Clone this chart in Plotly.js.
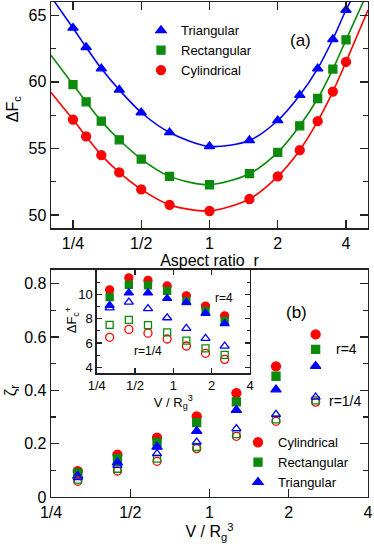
<!DOCTYPE html>
<html>
<head>
<meta charset="utf-8">
<script src="https://cdn.plot.ly/plotly-3.0.1.min.js"></script>
<style>
  html, body { margin: 0; padding: 0; background: #fff; }
  #plot { width: 374px; height: 546px; }
</style>
</head>
<body>
<div id="plot"></div>
<script>
// (a) free energy barrier vs aspect ratio
const aspectR = [0.25, 0.2857, 0.3333, 0.4, 0.5, 0.6667, 1, 1.5, 2, 2.5, 3, 3.5, 4];
const dfTri  = [64.05, 62.6, 61.0, 59.4, 57.7, 56.2, 55.15, 55.6, 57.1, 59.0, 61.0, 63.2, 65.4];
const dfRect = [59.8, 58.5, 57.05, 55.65, 54.2, 52.9, 52.27, 53.1, 54.7, 56.7, 58.75, 60.96, 63.16];
const dfCyl  = [57.17, 55.9, 54.5, 53.2, 51.92, 50.76, 50.3, 51.2, 52.9, 54.87, 57.05, 59.27, 61.5];

// fitted curves (incl. where they leave the frame)
const fitR    = [0.2, 0.25, 0.2857, 0.3333, 0.4, 0.5, 0.6667, 1, 1.5, 2, 2.5, 3, 3.5, 4, 5];
const fitTri  = [66.4, 64.05, 62.6, 61.0, 59.4, 57.7, 56.2, 55.15, 55.6, 57.1, 59.0, 61.0, 63.2, 65.4, 68.5];
const fitRect = [62.0, 59.8, 58.5, 57.05, 55.65, 54.2, 52.9, 52.27, 53.1, 54.7, 56.7, 58.75, 60.96, 63.16, 66.8];
const fitCyl  = [59.2, 57.17, 55.9, 54.5, 53.2, 51.92, 50.76, 50.3, 51.2, 52.9, 54.87, 57.05, 59.27, 61.5, 65.4];

// (b) zeta_r vs V / Rg^3
const vol = [0.316, 0.447, 0.632, 0.894, 1.265, 1.789, 2.53];
const zetaCyl4   = [0.097, 0.159, 0.223, 0.302, 0.39, 0.49, 0.61];
const zetaRect4  = [0.09, 0.144, 0.206, 0.279, 0.357, 0.453, 0.554];
const zetaTri4   = [0.079, 0.129, 0.188, 0.247, 0.326, 0.403, 0.491];
const zetaCyl14  = [0.059, 0.0975, 0.134, 0.1815, 0.2277, 0.284, 0.356];
const zetaRect14 = [0.065, 0.106, 0.144, 0.1875, 0.236, 0.291, 0.3626];
const zetaTri14  = [0.073, 0.119, 0.163, 0.206, 0.2565, 0.31, 0.375];

// inset: dF_c^+ vs V / Rg^3
const dfpCyl4   = [10.38, 11.37, 11.16, 10.7, 9.89, 9.04, 8.24];
const dfpRect4  = [9.78, 10.8, 10.75, 10.3, 9.45, 8.65, 7.83];
const dfpTri4   = [9.1, 10.13, 10.13, 9.67, 9.34, 8.44, 7.6];
const dfpCyl14  = [6.47, 7.12, 6.81, 6.33, 5.75, 5.15, 4.65];
const dfpRect14 = [7.5, 7.91, 7.47, 6.88, 6.19, 5.56, 5.02];
const dfpTri14  = [8.9, 9.37, 8.84, 8.08, 7.2, 6.38, 5.74];

const log2Ticks = [0.25, 0.5, 1, 2, 4];
const log2Text = ['1/4', '1/2', '1', '2', '4'];

const RED = '#ff0000', GREEN = '#0b8a0b', BLUE = '#0000ff';
const FONT = 'Liberation Sans, Arial, Helvetica, sans-serif';

// pixel -> paper helpers (plot area spans x 51..368, y 1.7..496.7)
const L = 51, R = 6, T = 1.7, B = 49.3;
const W = 374 - L - R, H = 546 - T - B;
const px = x => (x - L) / W;
const py = y => (546 - B - y) / H;

function markers(x, y, name, color, symbol, size, xa, ya, extra) {
  return Object.assign({
    x: x, y: y, name: name, type: 'scatter', mode: 'markers',
    xaxis: xa, yaxis: ya, showlegend: false,
    marker: { color: color, symbol: symbol, size: size, line: { color: color, width: 1.3 } }
  }, extra || {});
}
function fitLine(x, y, color) {
  return {
    x: x, y: y, type: 'scatter', mode: 'lines', xaxis: 'x', yaxis: 'y',
    showlegend: false, hoverinfo: 'skip',
    line: { color: color, width: 1.6, shape: 'spline', smoothing: 0.8 }
  };
}

const traces = [
  fitLine(fitR, fitCyl, RED),
  fitLine(fitR, fitRect, GREEN),
  fitLine(fitR, fitTri, BLUE),
  markers(aspectR, dfCyl, 'Cylindrical', RED, 'circle', 9, 'x', 'y', { showlegend: true, legend: 'legend', legendrank: 3 }),
  markers(aspectR, dfRect, 'Rectangular', GREEN, 'square', 8, 'x', 'y', { showlegend: true, legend: 'legend', legendrank: 2 }),
  markers(aspectR, dfTri, 'Triangular', BLUE, 'triangle-up', 9, 'x', 'y', { showlegend: true, legend: 'legend', legendrank: 1 }),

  markers(vol, zetaCyl4, 'Cylindrical', RED, 'circle', 9, 'x2', 'y2', { showlegend: true, legend: 'legend2', legendrank: 1 }),
  markers(vol, zetaRect4, 'Rectangular', GREEN, 'square', 8, 'x2', 'y2', { showlegend: true, legend: 'legend2', legendrank: 2 }),
  markers(vol, zetaTri4, 'Triangular', BLUE, 'triangle-up', 9, 'x2', 'y2', { showlegend: true, legend: 'legend2', legendrank: 3 }),
  markers(vol, zetaCyl14, 'Cylindrical r=1/4', RED, 'circle-open', 8, 'x2', 'y2'),
  markers(vol, zetaRect14, 'Rectangular r=1/4', GREEN, 'square-open', 7, 'x2', 'y2'),
  markers(vol, zetaTri14, 'Triangular r=1/4', BLUE, 'triangle-up-open', 8, 'x2', 'y2'),

  markers(vol, dfpCyl4, 'Cylindrical', RED, 'circle', 8, 'x3', 'y3'),
  markers(vol, dfpRect4, 'Rectangular', GREEN, 'square', 7, 'x3', 'y3'),
  markers(vol, dfpTri4, 'Triangular', BLUE, 'triangle-up', 8, 'x3', 'y3'),
  markers(vol, dfpCyl14, 'Cylindrical r=1/4', RED, 'circle-open', 8, 'x3', 'y3'),
  markers(vol, dfpRect14, 'Rectangular r=1/4', GREEN, 'square-open', 7, 'x3', 'y3'),
  markers(vol, dfpTri14, 'Triangular r=1/4', BLUE, 'triangle-up-open', 8, 'x3', 'y3')
];

function axis(extra, fontSize) {
  return Object.assign({
    showline: true, linecolor: '#222', linewidth: 1.4, mirror: 'ticks',
    ticks: 'inside', ticklen: 8, tickwidth: 1.3, tickcolor: '#222',
    showgrid: false, zeroline: false, fixedrange: true,
    tickfont: { family: FONT, size: fontSize || 16, color: '#000' }
  }, extra);
}

// text placed by its centre, at pixel position (x, y)
function label(text, x, y, size, angle) {
  return {
    text: text, x: px(x), y: py(y), xref: 'paper', yref: 'paper',
    xanchor: 'center', yanchor: 'middle', showarrow: false, textangle: angle || 0,
    font: { family: FONT, size: size, color: '#000' }
  };
}

const legendStyle = {
  xanchor: 'left', yanchor: 'top', traceorder: 'normal',
  bgcolor: 'rgba(0,0,0,0)', borderwidth: 0, itemwidth: 30,
  font: { family: FONT, size: 13, color: '#000' }, tracegroupgap: 0
};

const layout = {
  width: 374, height: 546,
  margin: { l: L, r: R, t: T, b: B },
  paper_bgcolor: '#fff', plot_bgcolor: '#fff',
  font: { family: FONT, color: '#000' },
  xaxis: axis({
    type: 'log', range: [Math.log10(0.2), Math.log10(5)], anchor: 'y', domain: [0, 1],
    tickvals: log2Ticks, ticktext: log2Text,
    title: { text: 'Aspect ratio  r', font: { family: FONT, size: 16 }, standoff: 0 }
  }),
  yaxis: axis({
    range: [49, 66], anchor: 'x', domain: [py(228), 1],
    tickvals: [50, 55, 60, 65],
    minor: { dtick: 2.5, ticks: 'inside', ticklen: 5, tickwidth: 1.2, tickcolor: '#222' }
  }),
  xaxis2: axis({
    type: 'log', range: [Math.log10(0.25), Math.log10(4)], anchor: 'y2', domain: [0, 1],
    tickvals: log2Ticks, ticktext: log2Text, mirror: true,
    title: { text: 'V / R<sub>g</sub><sup>3</sup>', font: { family: FONT, size: 16 }, standoff: 6 }
  }),
  yaxis2: axis({
    range: [0, 0.853], anchor: 'x2', domain: [0, py(269.3)],
    tickvals: [0, 0.2, 0.4, 0.6, 0.8], ticktext: ['0', '0.2', '0.4', '0.6', '0.8'],
    minor: { dtick: 0.1, ticks: 'inside', ticklen: 5, tickwidth: 1.2, tickcolor: '#222' }
  }),
  xaxis3: axis({
    type: 'log', range: [Math.log10(0.25), Math.log10(4)], anchor: 'y3', domain: [px(96.7), px(250)],
    tickvals: log2Ticks, ticktext: log2Text, ticklen: 5,
    title: { text: 'V / R<sub>g</sub><sup>3</sup>', font: { family: FONT, size: 13 }, standoff: 2 }
  }, 13),
  yaxis3: axis({
    range: [3.5, 12.05], anchor: 'x3', domain: [py(373), py(269.3)],
    tickvals: [4, 6, 8, 10], ticklen: 5,
    minor: { dtick: 1, ticks: 'inside', ticklen: 3, tickwidth: 1.1, tickcolor: '#222' }
  }, 13),
  legend: Object.assign({ x: px(141), y: py(15) }, legendStyle),
  legend2: Object.assign({ x: px(238), y: py(427) }, legendStyle),
  annotations: [
    label('ΔF<sub>c</sub>', 13, 109, 16, -90),
    label('ζ<sub>r</sub>', 12, 390, 17, -90),
    label('ΔF<sub>c</sub><sup>+</sup>', 72, 320, 13, -90),
    label('(a)', 300, 40.7, 17),
    label('(b)', 296, 311.7, 17),
    label('r=4', 346, 349, 14),
    label('r=1/4', 345, 401, 14),
    label('r=4', 224, 297.7, 12),
    label('r=1/4', 148, 350.7, 12)
  ]
};

Plotly.newPlot('plot', traces, layout, { displayModeBar: false, staticPlot: true });
</script>
</body>
</html>
